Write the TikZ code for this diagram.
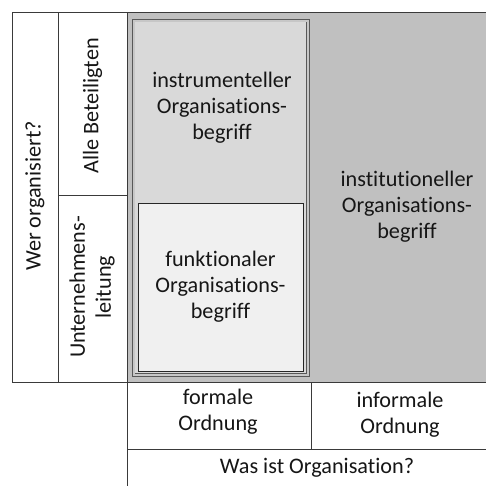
\documentclass[tikz,border=0pt]{standalone}
\usepackage{fontspec}
\setmainfont{Carlito}[RawFeature={-liga}]
\definecolor{rulecol}{HTML}{3A3A3A}
\definecolor{areagray}{HTML}{C0C0C0}
\definecolor{boxgray}{HTML}{D9D9D9}
\definecolor{boxlight}{HTML}{F0F0F0}
\definecolor{txtcol}{HTML}{161616}
\begin{document}
\begin{tikzpicture}[x=1pt, y=-1pt,
  cell/.style={draw=rulecol, line width=0.7pt, inner sep=0pt, outer sep=0pt, anchor=north west},
  label text/.style={text=txtcol, align=center, inner sep=0pt, font=\fontsize{22.2}{26}\selectfont},
]
\useasboundingbox (0,0) rectangle (485,486);
\fill[white] (0,0) rectangle (485,486);

% left header columns
\node[cell, minimum width=46pt, minimum height=370pt] (who) at (12,12) {};
\node[cell, minimum width=69pt, minimum height=183pt] (all) at (58,12) {};
\node[cell, minimum width=69pt, minimum height=187pt] (mgmt) at (58,195) {};

% institutional area (grey)
\node[cell, fill=areagray, minimum width=365pt, minimum height=370pt] (inst) at (127,12) {};

% instrumental box with double border
\node[draw=rulecol!85, double=areagray!70!boxgray, double distance=1.8pt, line width=0.8pt,
      fill=boxgray, inner sep=0pt, outer sep=0pt, anchor=north west,
      minimum width=174.1pt, minimum height=354.1pt] (instr) at (133.7,20.7) {};

% functional box
\node[cell, draw=black!85, fill=boxlight, minimum width=165pt, minimum height=168pt] (func) at (138,203) {};

% bottom header rows
\node[cell, minimum width=184pt, minimum height=67pt] (formal) at (127,382) {};
\node[cell, minimum width=180pt, minimum height=67pt] (informal) at (311,382) {};
\node[cell, minimum width=364pt, minimum height=45pt] (what) at (127,449) {};

% texts
\node[label text, rotate=90] (whoT) at (35,196) {Wer organisiert?};
\node[label text, rotate=90] (allT) at (92.5,106) {Alle Beteiligten};
\node[label text, rotate=90] (mgmtT) at (92,287) {Unternehmens-\\leitung};
\node[label text] (instrT) at (222,108) {instrumenteller\\Organisations-\\begriff};
\node[label text] (funcT) at (func.center) {funktionaler\\Organisations-\\begriff};
\node[label text] (instT) at (407,207) {institutioneller\\Organisations-\\begriff};
\node[label text] (formalT) at (218,412) {formale\\Ordnung};
\node[label text] (informalT) at (400,415) {informale\\Ordnung};
\node[label text] (whatT) at (317,467.5) {Was ist Organisation?};
\end{tikzpicture}
\end{document}
